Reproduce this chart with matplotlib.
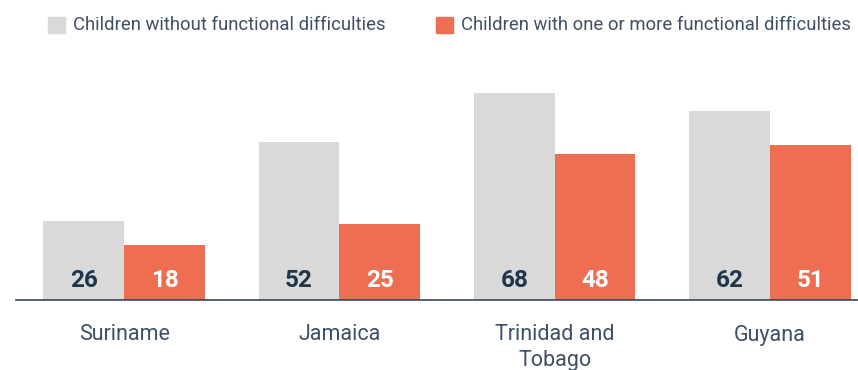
import numpy as np
from matplotlib import pyplot as plt
from matplotlib.patches import Rectangle

countries = ["Suriname", "Jamaica", "Trinidad and\nTobago", "Guyana"]
without_difficulties = [26, 52, 68, 62]
with_difficulties = [18, 25, 48, 51]
series_names = ["Children without functional difficulties",
                "Children with one or more functional difficulties"]

grey = "#d9d9d9"
orange = "#ed6e50"
dark = "#1e364b"
label_col = "#3e5064"

plt.rcParams['font.family'] = ['Roboto', 'DejaVu Sans']

fig = plt.figure(figsize=(8.58, 3.70), dpi=100)
ax = fig.add_axes([16 / 858, 70.5 / 370, 842 / 858, 240 / 370])

x = np.arange(len(countries))
w = 0.375
b1 = ax.bar(x - w / 2, without_difficulties, w, color=grey)
b2 = ax.bar(x + w / 2, with_difficulties, w, color=orange)

for rect, v in zip(b1, without_difficulties):
    ax.annotate(str(v), (rect.get_x() + rect.get_width() / 2, 0), xytext=(0, 9),
                textcoords="offset points", ha="center", va="baseline",
                fontsize=17.5, fontweight="bold", color=dark)
for rect, v in zip(b2, with_difficulties):
    ax.annotate(str(v), (rect.get_x() + rect.get_width() / 2, 0), xytext=(0, 9),
                textcoords="offset points", ha="center", va="baseline",
                fontsize=17.5, fontweight="bold", color="white")

ax.set_xlim(-0.502, 3.409)
ax.set_ylim(0, 79)
ax.set_xticks(x)
ax.set_xticklabels(countries, fontsize=15.5, color=label_col, linespacing=1.3)
ax.tick_params(axis="x", length=0, pad=18)
ax.set_yticks([])
for s in ["top", "right", "left"]:
    ax.spines[s].set_visible(False)
ax.spines["bottom"].set_color("#34495e")
ax.spines["bottom"].set_linewidth(1.2)

# legend drawn by hand
for x0, col, name in [(48, grey, series_names[0]), (436, orange, series_names[1])]:
    fig.patches.append(Rectangle((x0 / 858, (370 - 33) / 370), 17 / 858, 16 / 370,
                                 transform=fig.transFigure, color=col))
    fig.text((x0 + 25) / 858, (370 - 25) / 370, name, fontsize=13.3, color=label_col,
             va="center", ha="left")

fig.savefig("out.png", dpi=100)
